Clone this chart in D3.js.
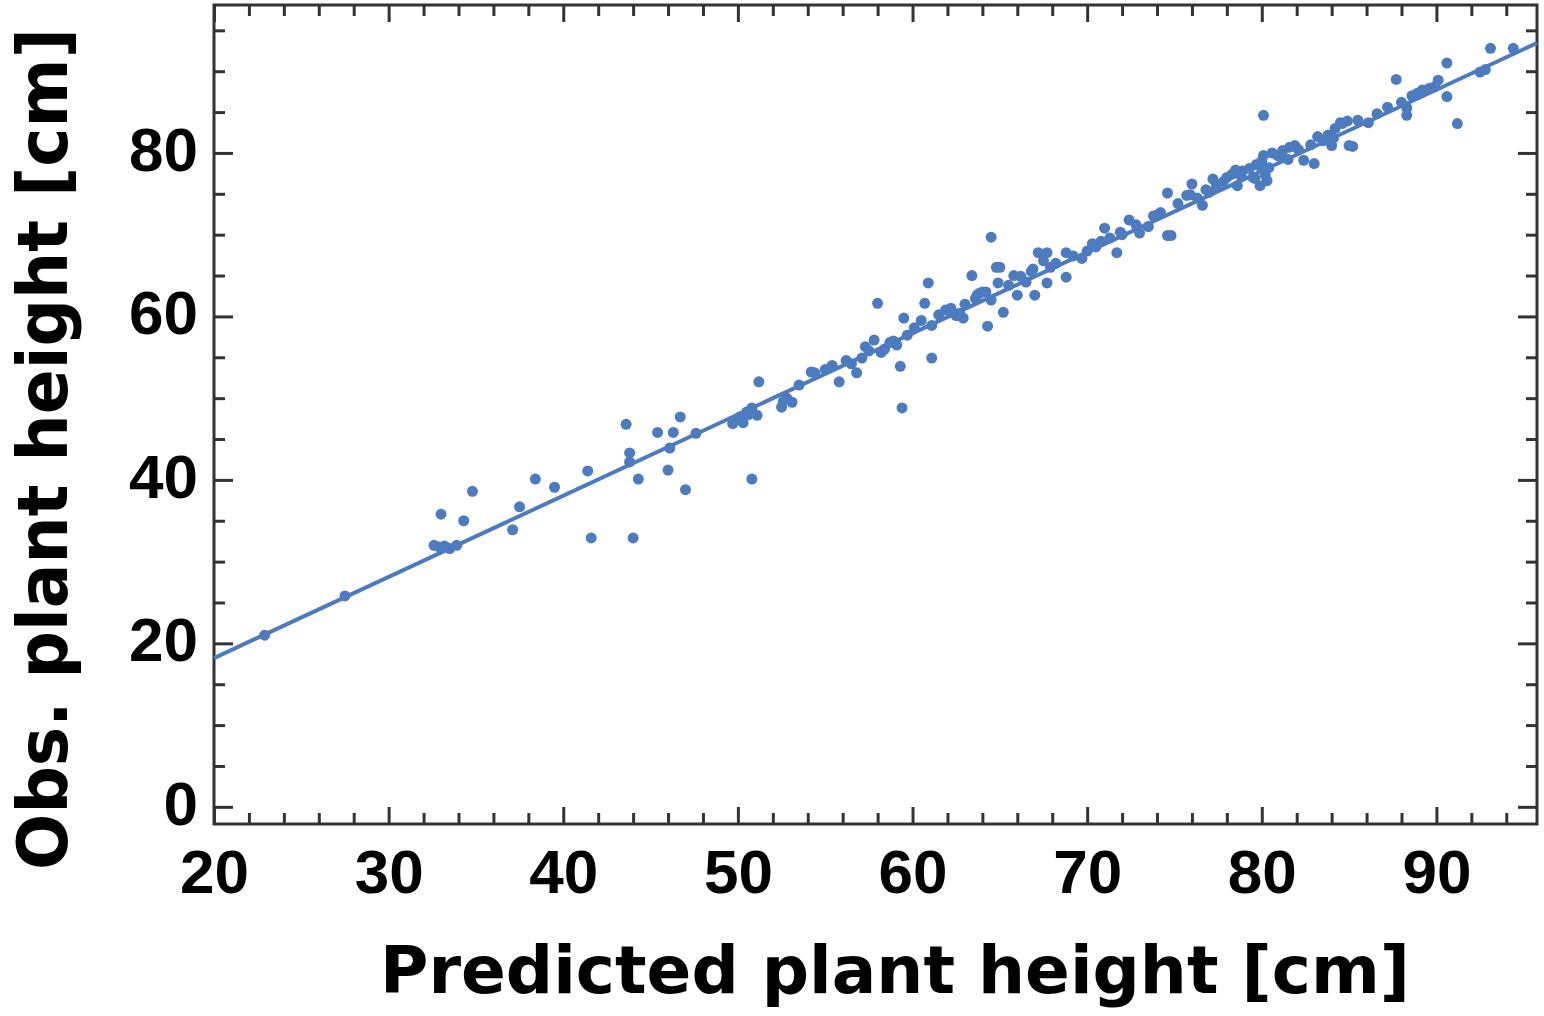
<!DOCTYPE html>
<html>
<head>
<meta charset="utf-8">
<script src="https://cdn.jsdelivr.net/npm/d3@7"></script>
<style>
body { margin: 0; background: #fff; }
svg { display: block; }
</style>
</head>
<body>
<svg id="chart"></svg>
<script>
var predicted = [
	22.9, 27.5, 32.6, 32.9, 33.2, 33.5, 33.0, 33.9, 34.3, 34.8, 37.1, 37.5, 38.4, 39.5, 41.4, 41.6,
	43.6, 43.8, 43.8, 44.0, 44.3, 45.4, 46.0, 46.1, 46.3, 46.7, 47.0, 47.6,
	49.7, 49.9, 50.1, 50.3, 50.5, 50.8, 51.1, 51.2, 50.8, 52.5, 52.8, 53.1, 52.6,
	53.5, 54.2, 54.4, 55.4, 55.8, 56.8, 57.1, 56.5, 57.8, 58.0, 58.2, 58.7, 59.1, 59.3, 59.4, 59.5, 59.7, 57.5, 58.4, 57.3,
	60.1, 60.7, 60.9, 61.1, 61.1, 61.9, 62.5, 62.7, 62.9, 63.4, 63.6, 63.8, 64.3, 64.5, 64.8, 63.7, 64.5, 64.9, 65.0, 65.2,
	65.8, 66.0, 66.5, 67.0, 67.2, 67.7, 67.7, 67.9, 68.8, 68.8, 69.7, 70.5, 71.0, 71.7, 71.9, 72.4, 73.0, 74.2, 74.6, 74.6,
	63.0, 64.0, 66.8, 67.5, 68.2, 70.0, 70.8, 71.3, 72.8, 73.5, 74.0, 60.5, 61.5, 62.2, 65.5, 66.2, 69.2, 72.0,
	74.8, 75.7, 76.0, 76.6, 77.4, 78.0, 78.6, 79.3, 80.1, 79.9, 80.2, 80.1, 80.9, 81.6, 82.4, 83.0, 83.5, 84.0, 84.5, 85.0,
	75.2, 76.3, 77.0, 77.8, 78.3, 78.9, 79.5, 79.7, 80.0, 80.4, 80.6, 81.2, 81.9, 82.1, 82.8, 83.8, 84.2, 79.6, 80.3, 77.2, 76.8, 78.5, 81.5,
	84.1, 84.6, 85.2, 86.1, 86.6, 87.7, 88.3, 88.6, 89.2, 89.6, 90.1, 90.6, 90.6, 91.2, 92.5, 93.1, 94.4, 84.9, 85.5, 88.0, 88.9, 89.9, 88.3, 92.8,
	58.9, 56.2, 64.2, 66.9, 70.3, 73.8, 75.9, 78.8, 79.9, 81.0, 83.2, 87.2, 50.6, 55.0
];
var observed = [
	21.0, 25.8, 32.0, 31.8, 31.9, 31.6, 35.8, 32.0, 35.0, 38.6, 33.9, 36.7, 40.1, 39.1, 41.1, 32.9,
	46.8, 43.3, 42.2, 32.9, 40.1, 45.8, 41.2, 43.9, 45.8, 47.7, 38.8, 45.7,
	46.9, 47.3, 47.7, 47.0, 48.3, 48.8, 47.9, 52.0, 40.1, 48.9, 50.0, 49.5, 49.6,
	51.6, 53.2, 53.1, 54.0, 52.0, 53.1, 54.9, 54.2, 57.1, 61.6, 55.6, 56.8, 56.5, 53.9, 48.8, 59.8, 57.7, 55.8, 56.0, 56.3,
	58.6, 61.6, 64.1, 54.9, 58.9, 60.8, 60.1, 60.4, 59.8, 65.0, 62.2, 62.8, 58.8, 62.0, 66.0, 62.6, 69.7, 64.1, 66.0, 60.5,
	65.0, 62.6, 64.2, 62.6, 67.8, 67.8, 64.1, 66.0, 67.8, 64.8, 67.1, 68.5, 70.8, 67.8, 70.3, 71.8, 70.2, 72.7, 75.1, 69.9,
	61.5, 63.0, 65.5, 66.8, 66.5, 68.0, 69.2, 69.6, 71.2, 71.0, 72.4, 59.5, 60.2, 61.0, 63.8, 64.9, 67.4, 70.0,
	69.9, 74.8, 76.2, 73.6, 76.0, 77.0, 76.0, 78.1, 84.6, 76.0, 77.3, 79.7, 79.7, 80.7, 79.1, 78.7, 81.5, 80.9, 83.7, 80.9,
	73.8, 74.5, 75.2, 76.5, 77.4, 77.8, 77.0, 78.6, 79.0, 78.2, 80.0, 80.3, 80.9, 80.4, 81.0, 82.2, 83.0, 76.9, 76.6, 76.8, 75.5, 77.9, 79.2,
	81.8, 83.6, 80.8, 83.7, 84.8, 89.0, 84.6, 87.0, 87.7, 87.9, 88.9, 91.0, 86.9, 83.6, 89.9, 92.8, 92.8, 83.9, 84.0, 86.2, 87.3, 88.1, 85.5, 90.2,
	57.0, 54.6, 63.0, 65.8, 68.9, 72.3, 74.9, 77.2, 78.4, 79.6, 82.0, 85.6, 48.0, 53.5
];

// fitted line end points
var fitX = [20, 95.76];
var fitY = [18.2, 93.45];

var xMajor = [20, 30, 40, 50, 60, 70, 80, 90];
var xMinor = d3.range(22, 96, 2).filter(function(d) { return d % 10 != 0; });
var yMajor = [0, 20, 40, 60, 80];
var yMinor = d3.range(5, 98, 5).filter(function(d) { return d % 20 != 0; });

var width = 1544,
    height = 1016;
var plotLeft = 214, plotRight = 1537, plotTop = 5, plotBottom = 824;
var blue = "#4d7bc0";

var svg = d3.select("#chart").attr("width", width).attr("height", height);

var x = d3.scaleLinear().domain([20, 95.76]).range([plotLeft, plotRight]);
var y = d3.scaleLinear().domain([-2.1, 98.1]).range([plotBottom, plotTop]);

function styleAxis(g) {
	g.select(".domain").remove();
	g.selectAll(".tick line").attr("stroke", "#333").attr("stroke-width", 3);
}

// ticks on all four sides, pointing inward
svg.append("g").attr("transform", "translate(0," + plotBottom + ")")
	.call(d3.axisBottom(x).tickValues(xMinor).tickSize(-11).tickFormat("")).call(styleAxis);
svg.append("g").attr("transform", "translate(0," + plotBottom + ")")
	.call(d3.axisBottom(x).tickValues(xMajor).tickSize(-17).tickPadding(25).tickFormat(d3.format("d")))
	.call(styleAxis)
	.selectAll("text")
	.attr("fill", "#000")
	.style("font-family", "'Liberation Sans', Arial, sans-serif")
	.style("font-weight", "bold")
	.style("font-size", "62px");

svg.append("g").attr("transform", "translate(0," + plotTop + ")")
	.call(d3.axisTop(x).tickValues(xMinor).tickSize(-11).tickFormat("")).call(styleAxis);
svg.append("g").attr("transform", "translate(0," + plotTop + ")")
	.call(d3.axisTop(x).tickValues(xMajor).tickSize(-17).tickFormat("")).call(styleAxis);

svg.append("g").attr("transform", "translate(" + plotLeft + ",0)")
	.call(d3.axisLeft(y).tickValues(yMinor).tickSize(-11).tickFormat("")).call(styleAxis);
svg.append("g").attr("transform", "translate(" + plotLeft + ",0)")
	.call(d3.axisLeft(y).tickValues(yMajor).tickSize(-19).tickPadding(16).tickFormat(d3.format("d")))
	.call(styleAxis)
	.selectAll("text")
	.attr("fill", "#000")
	.attr("dy", "0.28em")
	.style("font-family", "'Liberation Sans', Arial, sans-serif")
	.style("font-weight", "bold")
	.style("font-size", "62px");

svg.append("g").attr("transform", "translate(" + plotRight + ",0)")
	.call(d3.axisRight(y).tickValues(yMinor).tickSize(-11).tickFormat("")).call(styleAxis);
svg.append("g").attr("transform", "translate(" + plotRight + ",0)")
	.call(d3.axisRight(y).tickValues(yMajor).tickSize(-19).tickFormat("")).call(styleAxis);

// frame
svg.append("rect")
	.attr("x", plotLeft).attr("y", plotTop)
	.attr("width", plotRight - plotLeft).attr("height", plotBottom - plotTop)
	.attr("fill", "none").attr("stroke", "#333").attr("stroke-width", 3);

// points
var pts = predicted.map(function(d, i) { return [d, observed[i]]; });
svg.append("g").selectAll("circle")
	.data(pts)
	.enter().append("circle")
	.attr("cx", function(d) { return x(d[0]); })
	.attr("cy", function(d) { return y(d[1]); })
	.attr("r", 5.5)
	.attr("fill", blue);

// fit line
var line = d3.line().x(function(d) { return x(d[0]); }).y(function(d) { return y(d[1]); });
svg.append("path")
	.datum(fitX.map(function(d, i) { return [d, fitY[i]]; }))
	.attr("d", line)
	.attr("fill", "none")
	.attr("stroke", blue)
	.attr("stroke-width", 4);

// axis titles
svg.append("text").text("Predicted plant height [cm]")
	.attr("x", 895).attr("y", 993)
	.attr("text-anchor", "middle")
	.attr("textLength", 1030).attr("lengthAdjust", "spacingAndGlyphs")
	.style("font-family", "'DejaVu Sans', Verdana, sans-serif")
	.style("font-weight", "bold")
	.style("font-size", "65px");

svg.append("text").text("Obs. plant height [cm]")
	.attr("transform", "translate(67,449) rotate(-90)")
	.attr("text-anchor", "middle")
	.attr("textLength", 842).attr("lengthAdjust", "spacingAndGlyphs")
	.style("font-family", "'DejaVu Sans', Verdana, sans-serif")
	.style("font-weight", "bold")
	.style("font-size", "70px");
</script>
</body>
</html>
